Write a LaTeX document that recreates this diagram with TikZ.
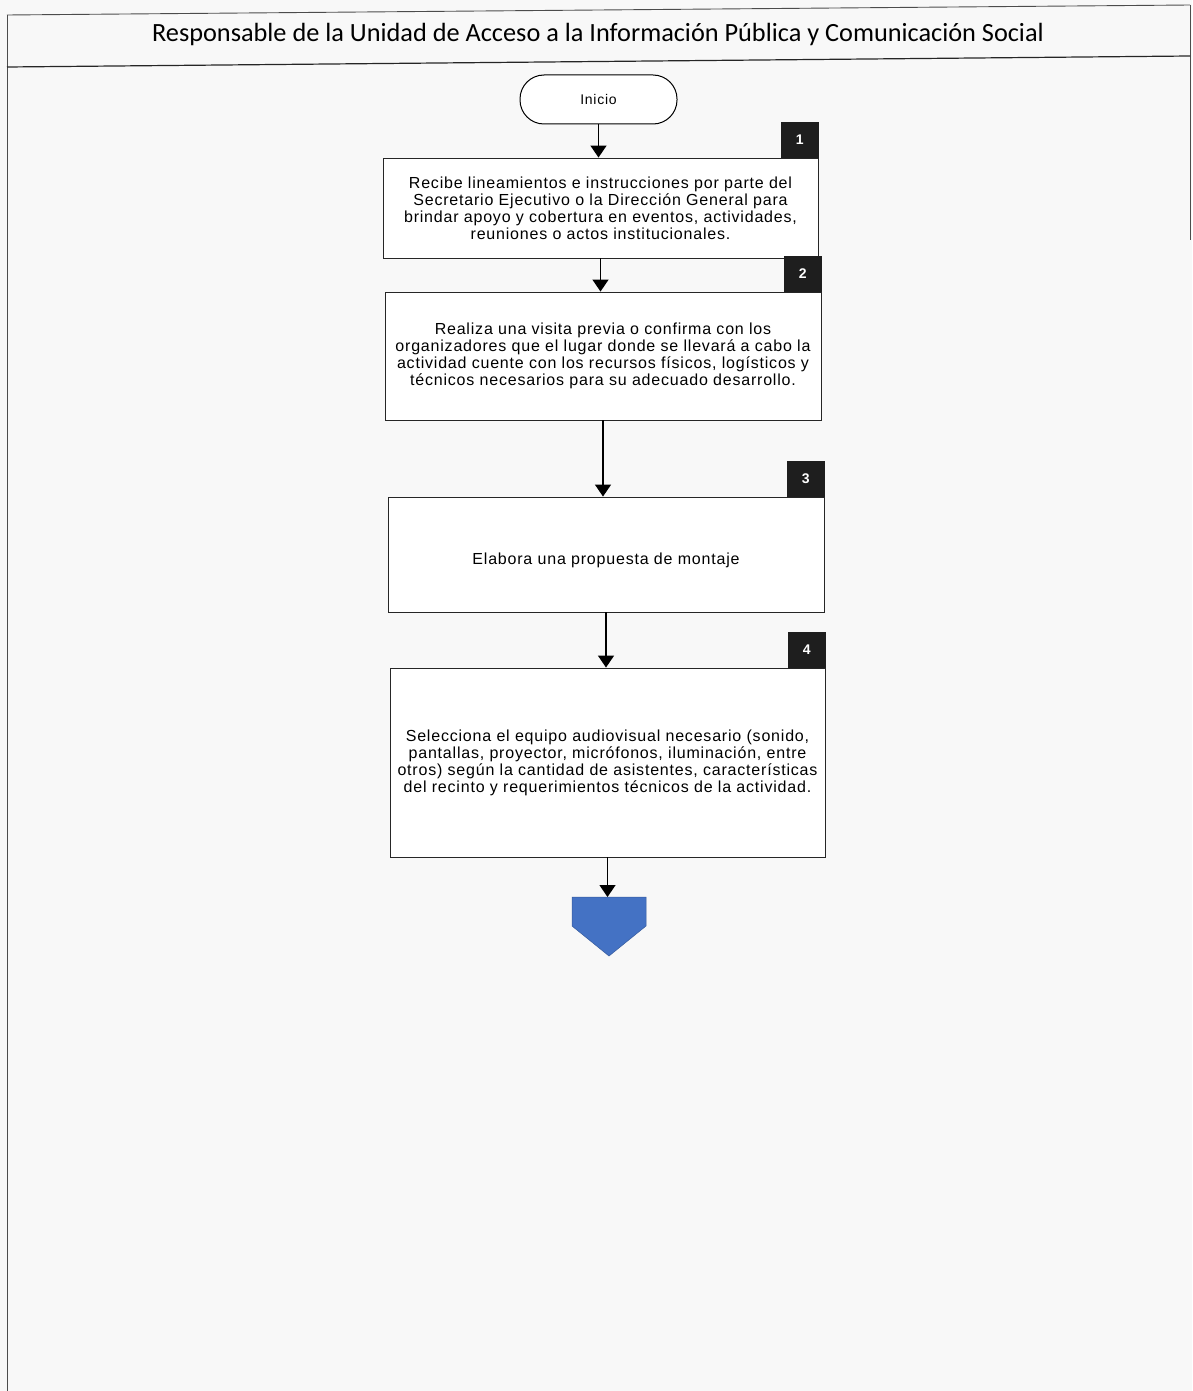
\documentclass[tikz,border=0pt]{standalone}
\usepackage{fontspec}
\setmainfont{Liberation Sans}
\newfontfamily\boxfont[LetterSpace=5]{Liberation Sans}
\newfontfamily\titlefont{Carlito}
\usetikzlibrary{arrows.meta}
\definecolor{pagebg}{HTML}{F8F8F8}
\definecolor{offblue}{HTML}{4472C4}
\definecolor{badgeblack}{HTML}{1E1E1E}
\begin{document}
\begin{tikzpicture}[x=1pt,y=-1pt,
  procbox/.style={draw=black!85, line width=0.9pt, rectangle, fill=white, inner sep=0pt, align=center, font=\boxfont\fontsize{16}{17}\selectfont},
  badge/.style={fill=badgeblack, draw=badgeblack, minimum width=37pt, minimum height=35pt, inner sep=0pt, text=white, font=\bfseries\fontsize{14}{14}\selectfont},
  flow/.style={line width=1.4pt, -{Triangle[width=16pt,length=12pt]}},
  frame/.style={draw=black!70, line width=0.9pt}
]
\useasboundingbox (0,0) rectangle (1192,1391);
\fill[pagebg] (0,0) rectangle (1192,1391);
% frame
\draw[frame] (7,15) -- (1190,5);
\draw[frame] (7,15) -- (7,1391);
\draw[frame] (1190,5) -- (1190,240);
\draw[line width=1.2pt, black!85] (7,67) -- (1190,56);
\node[font=\titlefont\fontsize{26.3}{26.3}\selectfont] (title) at (598,34) {Responsable de la Unidad de Acceso a la Información Pública y Comunicación Social};
% start
\node[draw=black, line width=1pt, rounded corners=24pt, minimum width=157pt, minimum height=49pt, fill=white, font=\boxfont\fontsize{14}{14}\selectfont] (inicio) at (598.5,99.5) {Inicio};
% boxes
\node[procbox, minimum width=435pt, minimum height=100pt] (b1) at (600.5,208) {Recibe lineamientos e instrucciones por parte del\\Secretario Ejecutivo o la Dirección General para\\brindar apoyo y cobertura en eventos, actividades,\\reuniones o actos institucionales.};
\node[procbox, minimum width=436pt, minimum height=128pt] (b2) at (603,356) {Realiza una visita previa o confirma con los\\organizadores que el lugar donde se llevará a cabo la\\actividad cuente con los recursos físicos, logísticos y\\técnicos necesarios para su adecuado desarrollo.};
\node[procbox, minimum width=436pt, minimum height=115pt, label={[yshift=-6pt, font=\boxfont\fontsize{16}{17}\selectfont]center:Elabora una propuesta de montaje}] (b3) at (606,554.5) {};
\node[procbox, minimum width=435pt, minimum height=189pt] (b4) at (607.5,762.5) {Selecciona el equipo audiovisual necesario (sonido,\\pantallas, proyector, micrófonos, iluminación, entre\\otros) según la cantidad de asistentes, características\\del recinto y requerimientos técnicos de la actividad.};
% badges
\node[badge, anchor=south east] (n1) at (b1.north east) {1};
\node[badge, anchor=south east] (n2) at (b2.north east) {2};
\node[badge, anchor=south east] (n3) at (b3.north east) {3};
\node[badge, anchor=south east] (n4) at (b4.north east) {4};
% off-page connector
\coordinate (offtop) at (608,897);
\fill[offblue, draw=offblue!80!black, line width=0.5pt] (572,897) -- (646,897) -- (646,926) -- (609,956) -- (572,926) -- cycle;
% connectors
\draw[flow] (inicio.south) -- (inicio.south |- b1.north);
\draw[flow] (b1.south) -- (b1.south |- b2.north);
\draw[flow] (b2.south) -- (b2.south |- b3.north);
\draw[flow] (b3.south) -- (b3.south |- b4.north);
\draw[flow] (b4.south) -- (b4.south |- offtop);
\end{tikzpicture}
\end{document}
